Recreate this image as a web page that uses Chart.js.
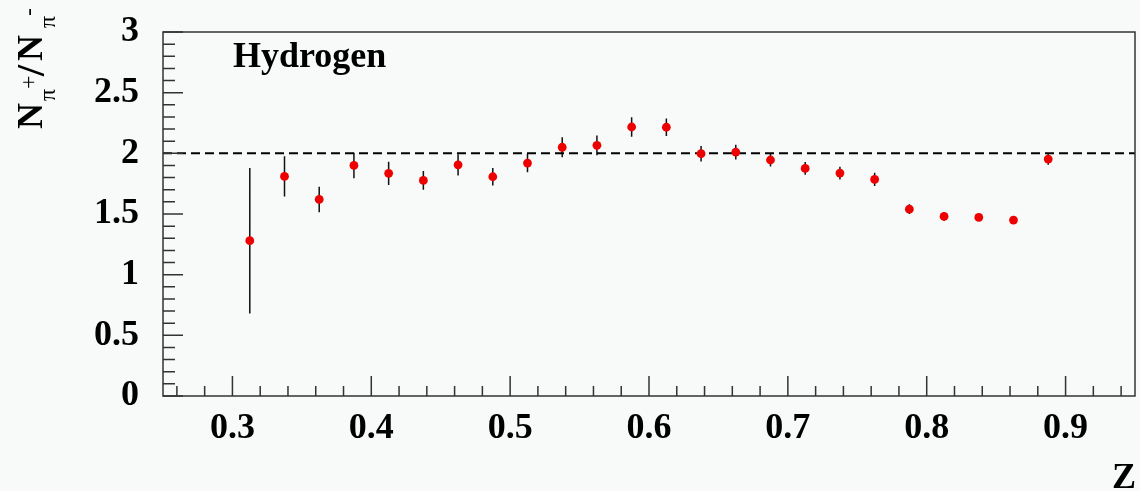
<!DOCTYPE html>
<html>
<head>
<meta charset="utf-8">
<script src="https://cdn.jsdelivr.net/npm/chart.js"></script>
<style>
  html, body { margin: 0; padding: 0; background: #f7faf8; }
  #wrap { width: 1140px; height: 491px; position: relative; }
</style>
</head>
<body>
<div id="wrap"><canvas id="chart"></canvas></div>
<script>
// z bins and measured ratio N(pi+)/N(pi-) for hydrogen
const zValues = [0.3125, 0.3375, 0.3625, 0.3875, 0.4125, 0.4375, 0.4625, 0.4875,
                 0.5125, 0.5375, 0.5625, 0.5875, 0.6125, 0.6375, 0.6625, 0.6875,
                 0.7125, 0.7375, 0.7625, 0.7875, 0.8125, 0.8375, 0.8625, 0.8875];
const ratio = [1.28, 1.81, 1.62, 1.90, 1.835, 1.777, 1.905, 1.807,
               1.92, 2.05, 2.066, 2.217, 2.215, 1.997, 2.01, 1.945,
               1.876, 1.837, 1.785, 1.54, 1.48, 1.472, 1.45, 1.953];
const ratioErr = [0.60, 0.165, 0.105, 0.105, 0.095, 0.078, 0.087, 0.072,
                  0.076, 0.082, 0.082, 0.08, 0.072, 0.064, 0.06, 0.053,
                  0.053, 0.053, 0.055, 0.04, 0.035, 0.02, 0.02, 0.048];
const refLevel = 2;
const xRange = [0.25, 0.95];
const yRange = [0, 3];
const xTickLabels = [0.3, 0.4, 0.5, 0.6, 0.7, 0.8, 0.9];
const yTickLabels = [0, 0.5, 1, 1.5, 2, 2.5, 3];
const xMinorStep = 0.02;
const yMinorStep = 0.1;

const SERIF = '"Liberation Serif", "Times New Roman", serif';

// frame + inward ticks, ROOT style
const frameTicks = {
  id: 'frameTicks',
  afterDraw(chart) {
    const { ctx, chartArea: a, scales: { x, y } } = chart;
    ctx.save();
    ctx.strokeStyle = '#333';
    ctx.lineWidth = 1.5;
    ctx.strokeRect(a.left, a.top, a.right - a.left, a.bottom - a.top);
    ctx.beginPath();
    const nx = Math.round((xRange[1] - xRange[0]) / xMinorStep);
    const firstX = Math.ceil(xRange[0] / xMinorStep - 1e-6) * xMinorStep;
    for (let i = 0; i <= nx; i++) {
      const v = firstX + i * xMinorStep;
      if (v > xRange[1] + 1e-9) break;
      const major = Math.abs(v * 10 - Math.round(v * 10)) < 1e-6;
      const px = x.getPixelForValue(v);
      ctx.moveTo(px, a.bottom);
      ctx.lineTo(px, a.bottom - (major ? 20 : 10));
    }
    const ny = Math.round((yRange[1] - yRange[0]) / yMinorStep);
    for (let i = 0; i <= ny; i++) {
      const v = yRange[0] + i * yMinorStep;
      const major = Math.abs(v * 2 - Math.round(v * 2)) < 1e-6;
      const py = y.getPixelForValue(v);
      ctx.moveTo(a.left, py);
      ctx.lineTo(a.left + (major ? 20 : 12), py);
    }
    ctx.stroke();

    // text: Hydrogen, Z, y title
    ctx.fillStyle = '#000';
    ctx.font = 'bold 36px ' + SERIF;
    ctx.textBaseline = 'alphabetic';
    ctx.textAlign = 'left';
    ctx.fillText('Hydrogen', 233, 67);
    ctx.textAlign = 'right';
    ctx.fillText('Z', 1136, 488);

    ctx.translate(42, 129);
    ctx.rotate(-Math.PI / 2);
    ctx.textAlign = 'left';
    const big = 'bold 36px ' + SERIF;
    const small = '24px ' + SERIF;
    ctx.font = big;
    ctx.fillText('N', 0, 0);
    ctx.font = small;
    ctx.fillText('\u03c0', 28, 13);
    ctx.fillText('+', 40, -6);
    ctx.font = 'bold 40px ' + SERIF;
    ctx.fillText('/', 53, 2);
    ctx.font = big;
    ctx.fillText('N', 68, 0);
    ctx.font = small;
    ctx.fillText('\u03c0', 101, 13);
    ctx.fillText('-', 113, -6);
    ctx.restore();
  }
};

// vertical error bars drawn under the markers
const errorBars = {
  id: 'errorBars',
  beforeDatasetsDraw(chart) {
    const { ctx, scales: { x, y } } = chart;
    ctx.save();
    ctx.strokeStyle = '#111';
    ctx.lineWidth = 1.5;
    ctx.beginPath();
    zValues.forEach((z, i) => {
      const px = x.getPixelForValue(z);
      ctx.moveTo(px, y.getPixelForValue(ratio[i] + ratioErr[i]));
      ctx.lineTo(px, y.getPixelForValue(ratio[i] - ratioErr[i]));
    });
    ctx.stroke();
    ctx.restore();
  }
};

const bg = {
  id: 'bg',
  beforeDraw(chart) {
    const { ctx, width, height } = chart;
    ctx.save();
    ctx.fillStyle = '#f7faf8';
    ctx.fillRect(0, 0, width, height);
    ctx.restore();
  }
};

new Chart(document.getElementById('chart'), {
  type: 'scatter',
  data: {
    datasets: [
      {
        label: 'Hydrogen',
        data: zValues.map((z, i) => ({ x: z, y: ratio[i] })),
        backgroundColor: '#ee0000',
        borderColor: '#ee0000',
        pointRadius: 4.4,
        borderWidth: 0
      },
      {
        type: 'line',
        label: 'ref',
        data: [{ x: xRange[0], y: refLevel }, { x: xRange[1], y: refLevel }],
        borderColor: '#000',
        borderWidth: 2,
        borderDash: [9, 5],
        pointRadius: 0,
        fill: false
      }
    ]
  },
  options: {
    responsive: true,
    maintainAspectRatio: false,
    animation: false,
    layout: { padding: { top: 32, right: 5, left: 0, bottom: 0 } },
    plugins: { legend: { display: false }, tooltip: { enabled: false } },
    scales: {
      x: {
        type: 'linear',
        min: xRange[0],
        max: xRange[1],
        border: { display: false },
        grid: { display: false, drawTicks: false },
        afterBuildTicks: s => { s.ticks = xTickLabels.map(v => ({ value: v })); },
        afterFit: s => { s.height = 95; s.paddingLeft = 0; s.paddingRight = 0; },
        ticks: {
          padding: 11,
          color: '#000',
          font: { family: SERIF, size: 36, weight: 'bold' },
          callback: v => v.toFixed(1)
        }
      },
      y: {
        min: yRange[0],
        max: yRange[1],
        border: { display: false },
        grid: { display: false, drawTicks: false },
        afterBuildTicks: s => { s.ticks = yTickLabels.map(v => ({ value: v })); },
        afterFit: s => { s.width = 163; s.paddingTop = 0; s.paddingBottom = 0; },
        ticks: {
          padding: 24,
          color: '#000',
          font: { family: SERIF, size: 36, weight: 'bold' },
          callback: v => String(v)
        }
      }
    }
  },
  plugins: [bg, errorBars, frameTicks]
});
</script>
</body>
</html>
